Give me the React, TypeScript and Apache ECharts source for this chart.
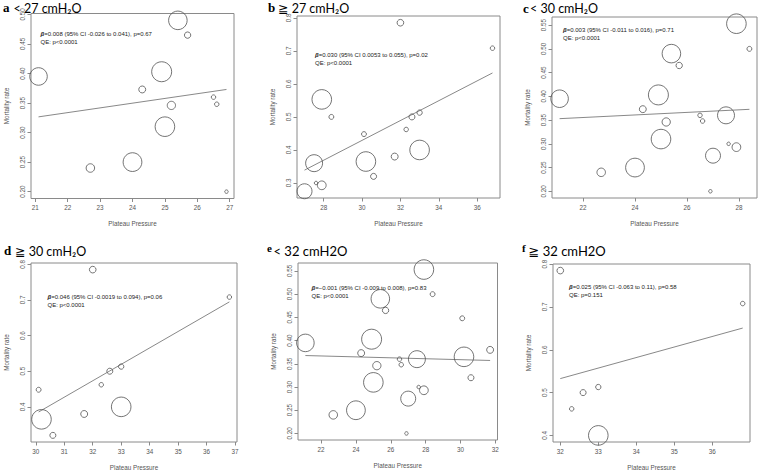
import React, { useEffect, useRef } from "react";
import * as echarts from "echarts";

// ---- data: one entry per study ----
const pressure = [21.1, 22.7, 24.0, 24.3, 24.9, 25.0, 25.2, 25.4, 25.7, 26.5, 26.6, 26.9, 27.0, 27.5, 27.6, 27.9, 27.9, 28.4, 30.1, 30.2, 30.6, 31.7, 32.0, 32.3, 32.6, 33.0, 33.0, 36.8];
const mortality = [0.395, 0.24, 0.25, 0.373, 0.403, 0.31, 0.346, 0.49, 0.465, 0.36, 0.348, 0.2, 0.275, 0.36, 0.3, 0.553, 0.293, 0.5, 0.448, 0.365, 0.32, 0.38, 0.785, 0.462, 0.5, 0.513, 0.4, 0.708];
const weight = [77, 18, 88, 12, 100, 96, 17, 86, 10, 5, 5, 3, 56, 72, 3, 96, 19, 6, 6, 96, 9, 12, 11, 5, 9, 7, 96, 5];

// ---- panels ----
const panelLetters = ["a", "b", "c", "d", "e", "f"];
const panelTitles = ["< 27 cmH\u2082O", "\u2267 27 cmH\u2082O", "< 30 cmH\u2082O", "\u2267 30 cmH\u2082O", "< 32 cmH2O", "\u2267 32 cmH2O"];
const panelLow = [-Infinity, 27, -Infinity, 30, -Infinity, 32];
const panelHigh = [27, Infinity, 30, Infinity, 32, Infinity];
const betaTexts = [
  "=0.008 (95% CI -0.026 to 0.041), p=0.67",
  "=0.030 (95% CI 0.0053 to 0.055), p=0.02",
  "=0.003 (95% CI -0.011 to 0.016), p=0.71",
  "=0.046 (95% CI -0.0019 to 0.094), p=0.06",
  "=\u22120.001 (95% CI -0.009 to 0.008), p=0.83",
  "=0.025 (95% CI -0.063 to 0.11), p=0.58",
];
const qeTexts = ["QE: p<0.0001", "QE: p<0.0001", "QE: p<0.0001", "QE: p<0.0001", "QE: p<0.0001", "QE: p=0.151"];
const fitIntercept = [0.1578, -0.471, 0.296, -1.002, 0.3889, -0.2545];
const fitSlope = [0.008, 0.03, 0.0027, 0.0461, -0.001, 0.0246];
const xTicks = [
  [21, 22, 23, 24, 25, 26, 27],
  [28, 30, 32, 34, 36],
  [22, 24, 26, 28],
  [30, 31, 32, 33, 34, 35, 36, 37],
  [22, 24, 26, 28, 30, 32],
  [32, 33, 34, 35, 36],
];
const yTicks = [
  [0.2, 0.25, 0.3, 0.35, 0.4, 0.45, 0.5],
  [0.3, 0.4, 0.5, 0.6, 0.7, 0.8],
  [0.2, 0.25, 0.3, 0.35, 0.4, 0.45, 0.5, 0.55],
  [0.4, 0.5, 0.6, 0.7, 0.8],
  [0.2, 0.25, 0.3, 0.35, 0.4, 0.45, 0.5, 0.55],
  [0.4, 0.5, 0.6, 0.7, 0.8],
];
const yDecimals = [2, 1, 2, 1, 2, 1];

// ---- layout (pixels) ----
const grids = [
  { left: 31, top: 13.5, width: 203, height: 185 },
  { left: 297, top: 16, width: 203, height: 182 },
  { left: 552, top: 17, width: 205, height: 181 },
  { left: 31, top: 263, width: 206, height: 179 },
  { left: 298, top: 263, width: 199.5, height: 177 },
  { left: 553, top: 264, width: 197, height: 178 },
];
const titlePos = [
  { lx: 3, tx: 13.5, by: 12.5 },
  { lx: 268, tx: 278, by: 12.5 },
  { lx: 523, tx: 530, by: 13 },
  { lx: 4, tx: 15, by: 255.5 },
  { lx: 267, tx: 273.5, by: 256 },
  { lx: 522, tx: 528.5, by: 256 },
];
const notePos = [
  { x: 40.5, y: 34 },
  { x: 315, y: 55 },
  { x: 563, y: 30 },
  { x: 47.5, y: 297.3 },
  { x: 311.5, y: 288.3 },
  { x: 569, y: 286.7 },
];

const SANS = "'Liberation Sans', Arial, sans-serif";
const TICK_COLOR = "#8a8a8a";
const LABEL_COLOR = "#555";

function buildOption() {
  const grid: any[] = [];
  const xAxis: any[] = [];
  const yAxis: any[] = [];
  const series: any[] = [];
  const graphic: any[] = [];

  panelLetters.forEach((letter, p) => {
    const idx = pressure.map((_, i) => i).filter((i) => pressure[i] >= panelLow[p] && pressure[i] < panelHigh[p]);
    const xs = idx.map((i) => pressure[i]);
    const ys = idx.map((i) => mortality[i]);
    const xMin = Math.min(...xs), xMax = Math.max(...xs);
    const yMin = Math.min(...ys), yMax = Math.max(...ys);
    const xPad = (xMax - xMin) * 0.04, yPad = (yMax - yMin) * 0.04;

    grid.push({
      ...grids[p],
      show: true,
      borderColor: TICK_COLOR,
      borderWidth: 1,
      backgroundColor: "transparent",
      containLabel: false,
      outerBoundsMode: "none",
    });
    xAxis.push({
      type: "value",
      gridIndex: p,
      min: xMin - xPad,
      max: xMax + xPad,
      axisLine: { show: false },
      splitLine: { show: false },
      axisTick: { show: true, length: 3.5, customValues: xTicks[p], lineStyle: { color: TICK_COLOR, width: 1 } },
      axisLabel: { customValues: xTicks[p], margin: 6, fontSize: 6.3, color: LABEL_COLOR, fontFamily: SANS },
      name: "Plateau Pressure",
      nameLocation: "middle",
      nameGap: 22,
      nameTextStyle: { fontSize: 6.3, color: LABEL_COLOR, fontFamily: SANS },
    });
    yAxis.push({
      type: "value",
      gridIndex: p,
      min: yMin - yPad,
      max: yMax + yPad,
      axisLine: { show: false },
      splitLine: { show: false },
      axisTick: { show: true, length: 3.5, customValues: yTicks[p], lineStyle: { color: TICK_COLOR, width: 1 } },
      axisLabel: {
        customValues: yTicks[p],
        rotate: 90,
        margin: 6,
        fontSize: 6.3,
        color: LABEL_COLOR,
        fontFamily: SANS,
        formatter: (v: number) => v.toFixed(yDecimals[p]),
      },
      name: "Mortality rate",
      nameLocation: "middle",
      nameGap: 22,
      nameTextStyle: { fontSize: 6.3, color: LABEL_COLOR, fontFamily: SANS },
    });
    series.push({
      type: "scatter",
      xAxisIndex: p,
      yAxisIndex: p,
      data: idx.map((i) => [pressure[i], mortality[i], weight[i]]),
      symbol: "circle",
      symbolSize: (v: number[]) => 2 * Math.sqrt(v[2]),
      itemStyle: { color: "rgba(0,0,0,0)", borderColor: "#505050", borderWidth: 0.8, opacity: 1 },
      emphasis: { disabled: true },
      silent: true,
      z: 3,
    });
    series.push({
      type: "line",
      xAxisIndex: p,
      yAxisIndex: p,
      data: [xMin, xMax].map((x) => [x, fitIntercept[p] + fitSlope[p] * x]),
      showSymbol: false,
      lineStyle: { color: "#7a7a7a", width: 0.9 },
      silent: true,
      z: 2,
    });

    const tp = titlePos[p];
    const small = p >= 4;
    graphic.push({
      type: "text",
      x: tp.lx,
      y: tp.by - (small ? 0.75 : 0.35) * (small ? 11 : 13),
      style: {
        text: letter,
        font: `bold ${small ? 11 : 13}px 'Liberation Serif', serif`,
        fill: "#000",
        verticalAlign: "middle",
      },
    });
    graphic.push({
      type: "text",
      x: tp.tx,
      y: tp.by - 0.35 * (small ? 13 : 12.5),
      style: {
        text: panelTitles[p],
        font: `${small ? 13 : 12.5}px Lato, 'DejaVu Sans', 'Noto Sans CJK JP', sans-serif`,
        fill: "#000",
        verticalAlign: "middle",
      },
    });
    const np = notePos[p];
    graphic.push({
      type: "text",
      x: np.x,
      y: np.y,
      style: {
        text: `{b|\u03B2}{t|${betaTexts[p]}}`,
        rich: {
          b: { fontSize: 6, fontStyle: "italic", fontWeight: "bold", fontFamily: SANS, fill: "#222" },
          t: { fontSize: 6, fontFamily: SANS, fill: "#222" },
        },
        verticalAlign: "middle",
      },
    });
    graphic.push({
      type: "text",
      x: np.x,
      y: np.y + 8,
      style: {
        text: qeTexts[p],
        font: `6px ${SANS}`,
        fill: "#222",
        verticalAlign: "middle",
      },
    });
  });

  return { animation: false, backgroundColor: "#fff", grid, xAxis, yAxis, series, graphic };
}

export default function App() {
  const ref = useRef<HTMLDivElement>(null);
  useEffect(() => {
    if (!ref.current) return;
    const chart = echarts.init(ref.current, undefined, { renderer: "svg", width: 760, height: 473 });
    chart.setOption(buildOption() as any);
    return () => chart.dispose();
  }, []);
  return (
    <div
      ref={ref}
      style={{ position: "fixed", left: 0, top: 0, width: 760, height: 473, background: "#fff" }}
    />
  );
}
